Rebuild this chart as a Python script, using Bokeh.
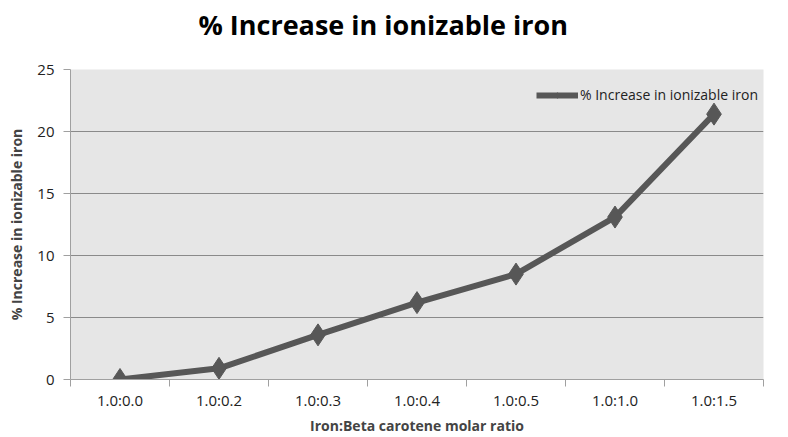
from bokeh.plotting import figure
from bokeh.models import FixedTicker, Range1d, Legend, LegendItem, ColumnDataSource, Title
from bokeh.embed import file_html
from bokeh.resources import INLINE

categories = ["1.0:0.0", "1.0:0.2", "1.0:0.3", "1.0:0.4", "1.0:0.5", "1.0:1.0", "1.0:1.5"]
values = [0.0, 0.9, 3.6, 6.2, 8.5, 13.1, 21.4]
y_ticks = [0, 5, 10, 15, 20, 25]
series_name = "% Increase in ionizable iron"
chart_title = "% Increase in ionizable iron"

xpos = [i + 0.5 for i in range(len(categories))]
src = ColumnDataSource(dict(x=xpos, y=values))

FONT = "Open Sans"
p = figure(width=788, height=437, output_backend="svg", toolbar_location=None, title=None,
           x_range=Range1d(0, len(categories)), y_range=Range1d(0, 25),
           min_border_left=70, min_border_right=25, min_border_top=69, min_border_bottom=58)
p.background_fill_color = "#e6e6e6"
p.border_fill_color = "white"
p.outline_line_color = None

spacer = Title(text=" ", text_font_size="1px", standoff=24)
main_title = Title(text=chart_title, text_font=FONT, text_font_size="27px", text_font_style="bold",
                   align="left", offset=128, standoff=0, vertical_align="bottom", text_color="black")
p.add_layout(spacer, "above")
p.add_layout(main_title, "above")

p.xgrid.grid_line_color = None
p.ygrid.grid_line_color = "#8a8a8a"
p.ygrid.grid_line_width = 1

p.yaxis.ticker = FixedTicker(ticks=y_ticks)
p.yaxis.axis_line_color = "#a0a0a0"
p.yaxis.major_tick_line_color = "#a0a0a0"
p.yaxis.major_tick_out = 7
p.yaxis.major_tick_in = 0
p.yaxis.minor_tick_line_color = None
p.yaxis.major_label_text_font = FONT
p.yaxis.major_label_text_font_size = "15px"
p.yaxis.major_label_text_color = "#222222"
p.yaxis.major_label_standoff = 9
p.yaxis.axis_label = "% Increase in ionizable iron"
p.yaxis.axis_label_text_font = FONT
p.yaxis.axis_label_text_font_size = "14px"
p.yaxis.axis_label_text_font_style = "bold"
p.yaxis.axis_label_standoff = 8

p.xaxis.ticker = FixedTicker(ticks=xpos, minor_ticks=list(range(len(categories) + 1)))
p.xaxis.major_label_overrides = {x: c for x, c in zip(xpos, categories)}
p.xaxis.axis_line_color = "#a0a0a0"
p.xaxis.major_tick_line_color = None
p.xaxis.major_tick_out = 0
p.xaxis.major_tick_in = 0
p.xaxis.minor_tick_line_color = "#a0a0a0"
p.xaxis.minor_tick_out = 7
p.xaxis.minor_tick_in = 0
p.xaxis.major_label_text_font = FONT
p.xaxis.major_label_text_font_size = "15px"
p.xaxis.major_label_text_color = "#222222"
p.xaxis.major_label_standoff = 3
p.xaxis.axis_label = "Iron:Beta carotene molar ratio"
p.xaxis.axis_label_text_font = FONT
p.xaxis.axis_label_text_font_size = "14px"
p.xaxis.axis_label_text_font_style = "bold"
p.xaxis.axis_label_standoff = 3

ln = p.line("x", "y", source=src, line_color="#575757", line_width=6)
sc = p.scatter("x", "y", source=src, marker="diamond", size=22, fill_color="#575757", line_color="#575757")

leg = Legend(items=[LegendItem(label=series_name, renderers=[ln, sc])],
             location=(466, 275), background_fill_alpha=0, border_line_color=None,
             label_text_font=FONT, label_text_font_size="14px", label_text_color="#222222",
             glyph_width=42, glyph_height=14, label_standoff=2, padding=0, margin=0)
p.add_layout(leg, "center")

open("out.html", "w").write(file_html(p, INLINE))
